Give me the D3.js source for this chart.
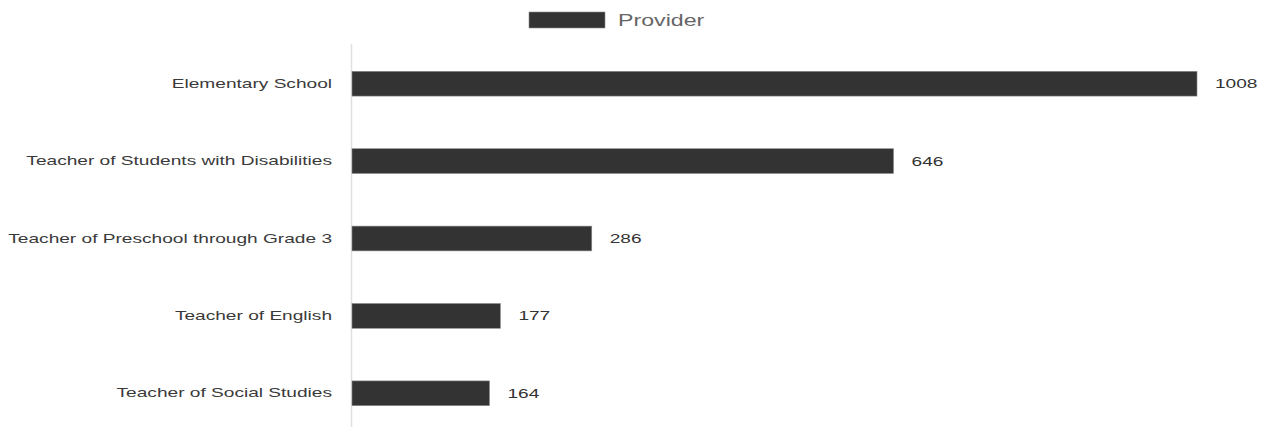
<!DOCTYPE html>
<html>
<head>
<meta charset="utf-8">
<script src="https://cdn.jsdelivr.net/npm/d3@7"></script>
<style>
  html, body { margin: 0; padding: 0; background: #fff; }
  svg { display: block; font-family: "Liberation Sans", Arial, sans-serif; }
</style>
</head>
<body>
<svg id="chart" width="1269" height="427"></svg>
<script>
const categories = [
  "Elementary School",
  "Teacher of Students with Disabilities",
  "Teacher of Preschool through Grade 3",
  "Teacher of English",
  "Teacher of Social Studies"
];
const values = [1008, 646, 286, 177, 164];
const seriesName = "Provider";

const svg = d3.select("#chart");
const margin = { left: 352, right: 72, top: 45, bottom: -5 };
const W = 1269, H = 427;
const sx = 1.47; // horizontal text stretch seen in the reference

const x = d3.scaleLinear().domain([0, 1008]).range([margin.left, W - margin.right]);
const y = d3.scaleBand().domain(categories).range([margin.top, H - margin.bottom]).paddingInner(0.68).paddingOuter(0.34);

// axis line
svg.append("line")
  .attr("x1", margin.left - 0.5).attr("x2", margin.left - 0.5)
  .attr("y1", 44).attr("y2", H)
  .attr("stroke", "#e0e0e0").attr("stroke-width", 1.5);

// y axis labels
const yAxis = d3.axisLeft(y).tickSize(0).tickPadding(20);
const gy = svg.append("g").attr("transform", `translate(${margin.left},0)`).call(yAxis);
gy.select(".domain").remove();
gy.selectAll("text")
  .attr("font-size", 13).attr("fill", "#3a3a3a")
  .attr("font-family", "'Liberation Sans', Arial, sans-serif")
  .attr("x", -20 / sx)
  .attr("transform", `scale(${sx},1)`);

// bars
svg.selectAll("rect.bar").data(values).enter().append("rect")
  .attr("class", "bar")
  .attr("x", x(0))
  .attr("y", (d, i) => y(categories[i]))
  .attr("width", d => x(d) - x(0))
  .attr("height", y.bandwidth())
  .attr("fill", "#333333")
  .attr("stroke", "#8a8a8a").attr("stroke-width", 0.6);

// value labels
svg.selectAll("text.val").data(values).enter().append("text")
  .attr("class", "val")
  .attr("transform", (d, i) => `translate(${x(d) + 18},${y(categories[i]) + y.bandwidth() / 2}) scale(${sx},1)`)
  .attr("dy", "0.35em")
  .attr("font-size", 13)
  .attr("fill", "#333")
  .text(d => d);

// legend
const lg = svg.append("g");
lg.append("rect").attr("x", 529).attr("y", 12).attr("width", 76).attr("height", 16)
  .attr("fill", "#333333").attr("stroke", "#8a8a8a").attr("stroke-width", 0.6);
lg.append("text")
  .attr("transform", `translate(618,20) scale(1.45,1)`)
  .attr("dy", "0.35em")
  .attr("font-size", 16).attr("fill", "#666").text(seriesName);
</script>
</body>
</html>
